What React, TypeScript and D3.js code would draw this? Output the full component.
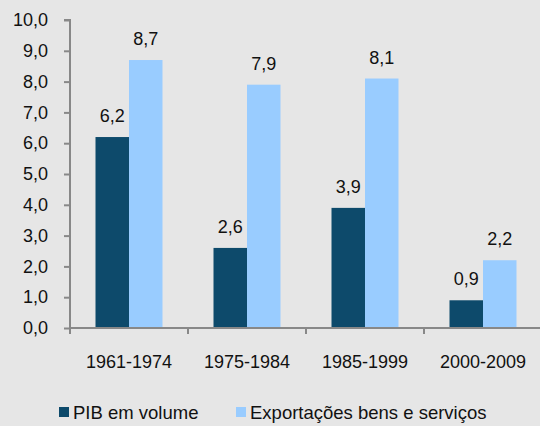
import { useEffect, useRef } from 'react';
import * as d3 from 'd3';

const categories = ['1961-1974', '1975-1984', '1985-1999', '2000-2009'];
const pibValues = [6.2, 2.6, 3.9, 0.9];
const exportValues = [8.7, 7.9, 8.1, 2.2];
const yTicks = [0, 1, 2, 3, 4, 5, 6, 7, 8, 9, 10];
const seriesNames = ['PIB em volume', 'Exportações bens e serviços'];
const seriesColors = ['#0d4a6b', '#99ccff'];

export default function App() {
  const svgRef = useRef<SVGSVGElement>(null);

  useEffect(() => {
    if (!svgRef.current) return;
    const svg = d3.select(svgRef.current);
    svg.selectAll('*').remove();

    const width = 540;
    const height = 426;
    const margin = { top: 20, right: 0, bottom: 98, left: 70 };
    const font = '"Liberation Sans", Arial, sans-serif';
    const fmt = (v: number) => d3.format('.1f')(v).replace('.', ',');

    svg.append('rect').attr('width', width).attr('height', height).attr('fill', '#e6e6e6');

    const g = svg.append('g').attr('transform', `translate(${margin.left},${margin.top})`);
    const plotH = height - margin.top - margin.bottom;

    const x = d3.scaleBand().domain(categories).range([0, 472]);
    const y = d3.scaleLinear().domain([0, 10]).range([plotH, 0]);
    const barW = 33.5;

    const series = [pibValues, exportValues];
    series.forEach((vals, si) => {
      categories.forEach((c, i) => {
        const cx = (x(c) ?? 0) + x.bandwidth() / 2;
        const bx = cx + (si - 1) * barW;
        g.append('rect')
          .attr('x', bx)
          .attr('y', y(vals[i]))
          .attr('width', barW)
          .attr('height', plotH - y(vals[i]))
          .attr('fill', seriesColors[si]);
        g.append('text')
          .attr('x', bx + barW / 2)
          .attr('y', y(vals[i]) - 15)
          .attr('text-anchor', 'middle')
          .style('font-family', font)
          .style('font-size', '18px')
          .attr('fill', '#111')
          .text(fmt(vals[i]));
      });
    });

    // Y axis
    const yAxis = g.append('g')
      .call(d3.axisLeft(y).tickValues(yTicks).tickSize(6).tickPadding(16)
        .tickFormat(d => fmt(d as number)));
    yAxis.select('.domain').attr('stroke', '#888').attr('stroke-width', 2).attr('d', `M-6,0H0V${plotH}`);
    yAxis.selectAll('line').attr('stroke', '#888').attr('stroke-width', 2);
    yAxis.selectAll('text').style('font-family', font).style('font-size', '18px').attr('fill', '#111');

    // X axis
    const xAxis = g.append('g').attr('transform', `translate(0,${plotH})`);
    xAxis.append('line').attr('x1', 0).attr('x2', 472).attr('stroke', '#888').attr('stroke-width', 2);
    categories.forEach(c => {
      const tx = x(c) ?? 0;
      xAxis.append('line').attr('x1', tx).attr('x2', tx).attr('y1', 0).attr('y2', 6)
        .attr('stroke', '#888').attr('stroke-width', 2);
      xAxis.append('text')
        .attr('x', tx + x.bandwidth() / 2)
        .attr('y', 40)
        .attr('text-anchor', 'middle')
        .style('font-family', font)
        .style('font-size', '18px')
        .attr('fill', '#111')
        .text(c);
    });

    // Legend
    const legendX = [59, 236];
    seriesNames.forEach((name, i) => {
      const lg = svg.append('g').attr('transform', `translate(${legendX[i]},412)`);
      lg.append('rect').attr('x', 0).attr('y', -5).attr('width', 10).attr('height', 10).attr('fill', seriesColors[i]);
      lg.append('text')
        .attr('x', 14)
        .attr('y', 6.5)
        .style('font-family', font)
        .style('font-size', '18.5px')
        .attr('fill', '#111')
        .text(name);
    });
  }, []);

  return <svg ref={svgRef} width={540} height={426} style={{ position: 'absolute', left: 0, top: 0 }} />;
}
